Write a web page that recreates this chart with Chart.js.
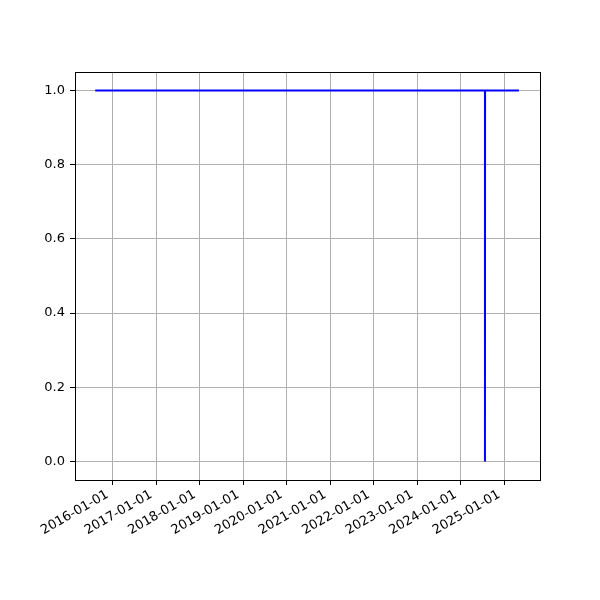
<!DOCTYPE html>
<html>
<head>
<meta charset="utf-8">
<script src="https://cdn.jsdelivr.net/npm/chart.js@4"></script>
<style>
   html, body { margin: 0; padding: 0; background: #fff; }
   #wrap { width: 600px; height: 600px; }
</style>
</head>
<body>
<div id="wrap"><canvas id="chart" width="600" height="600"></canvas></div>
<script>
   // data
   const dates = ['2015-08-09', '2024-07-23', '2024-07-23', '2024-07-24', '2025-05-04'];
   const values = [1, 1, 0, 1, 1];

   const xTickLabels = ['2016-01-01', '2017-01-01', '2018-01-01', '2019-01-01', '2020-01-01',
      '2021-01-01', '2022-01-01', '2023-01-01', '2024-01-01', '2025-01-01'];
   const yTicks = [0.0, 0.2, 0.4, 0.6, 0.8, 1.0];

   const xMin = Date.parse('2015-02-20');
   const xMax = Date.parse('2025-10-28');

   const points = dates.map((d, i) => ({x: Date.parse(d), y: values[i]}));

   // matplotlib draws a full box round the axes
   const boxPlugin = {
      id: 'box',
      afterDraw(chart) {
         const a = chart.chartArea;
         const ctx = chart.ctx;
         ctx.save();
         ctx.strokeStyle = '#000';
         ctx.lineWidth = 1;
         ctx.strokeRect(Math.round(a.left) + 0.5, Math.round(a.top) + 0.5,
            Math.round(a.right - a.left), Math.round(a.bottom - a.top));
         ctx.restore();
      }
   };

   const font = {family: 'DejaVu Sans', size: 13};

   new Chart(document.getElementById('chart').getContext('2d'), {
      type: 'line',
      data: {
         datasets: [{
            data: points,
            borderColor: '#0000ff',
            borderWidth: 2,
            pointRadius: 0,
            fill: false,
            tension: 0
         }]
      },
      options: {
         responsive: false,
         animation: false,
         layout: {padding: {top: 72, right: 60, left: 0, bottom: 0}},
         plugins: {legend: {display: false}, tooltip: {enabled: false}},
         scales: {
            x: {
               type: 'linear',
               min: xMin,
               max: xMax,
               afterBuildTicks: scale => {
                  scale.ticks = xTickLabels.map(s => ({value: Date.parse(s)}));
               },
               afterFit: scale => { scale.height = 120; },
               grid: {color: '#b0b0b0', lineWidth: 1, tickColor: '#000', tickLength: 5},
               border: {color: '#000', width: 1},
               ticks: {
                  color: '#000',
                  font: font,
                  autoSkip: false,
                  minRotation: 30,
                  maxRotation: 30,
                  padding: 2,
                  labelOffset: -5,
                  callback: v => new Date(v).toISOString().slice(0, 10)
               }
            },
            y: {
               type: 'linear',
               min: -0.05,
               max: 1.05,
               afterBuildTicks: scale => {
                  scale.ticks = yTicks.map(v => ({value: v}));
               },
               afterFit: scale => { scale.width = 75; },
               grid: {color: '#b0b0b0', lineWidth: 1, tickColor: '#000', tickLength: 5},
               border: {color: '#000', width: 1},
               ticks: {
                  color: '#000',
                  font: font,
                  padding: 5,
                  callback: v => v.toFixed(1)
               }
            }
         }
      },
      plugins: [boxPlugin]
   });
</script>
</body>
</html>
